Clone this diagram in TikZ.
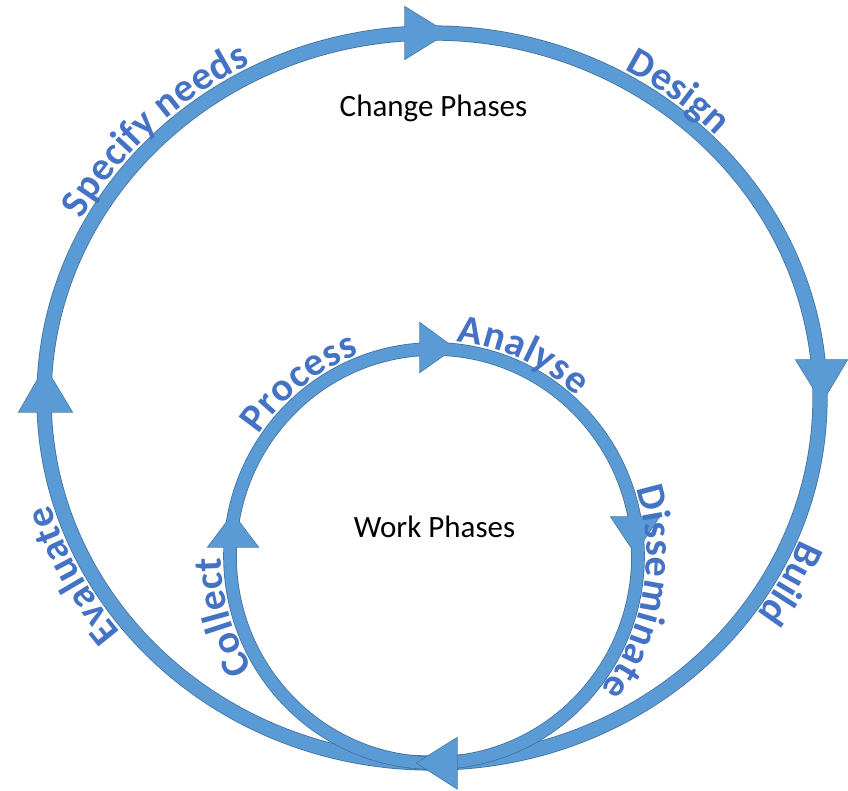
\documentclass[tikz,border=0pt]{standalone}
\usepackage{fontspec}
\setmainfont{Carlito}
\usetikzlibrary{decorations.text}
\definecolor{band}{HTML}{5B9BD5}
\definecolor{bandedge}{HTML}{41719C}
\definecolor{lbl}{HTML}{4472C4}
\newcommand\lblsty{\bfseries\fontsize{40}{48}\selectfont}
\tikzset{
  ringedge/.style={draw=bandedge, line width=15.2pt},
  ringfill/.style={draw=band, line width=13.6pt},
  headedge/.style={fill=bandedge, draw=bandedge, line width=1.4pt},
  headfill/.style={fill=band},
  lbltext/.style={decorate, decoration={text along path, text color=lbl, text align=center, raise=#1, text format delimiters={|}{|}}},
  phase/.style={font=\fontsize{31}{36}\selectfont, inner sep=0pt, anchor=base, text=black}
}
\begin{document}
\begin{tikzpicture}[x=1pt,y=1pt]
\useasboundingbox (0,0) rectangle (848,790);
\coordinate (oc) at (432,392);
\coordinate (ic) at (434,234);
% outer ring
\draw[ringedge] (oc) ellipse[x radius=388, y radius=365];
\path[headedge] (405,783) -- (405,731) -- (447,757) -- cycle;
\path[headedge] (796,430) -- (847,430) -- (822,388) -- cycle;
\path[headedge] (19,378) -- (72,378) -- (45,423) -- cycle;
\draw[ringfill] (oc) ellipse[x radius=388, y radius=365];
\path[headfill] (405,783) -- (405,731) -- (447,757) -- cycle;
\path[headfill] (796,430) -- (847,430) -- (822,388) -- cycle;
\path[headfill] (19,378) -- (72,378) -- (45,423) -- cycle;
% inner ring
\draw[ringedge, line width=13.6pt] (ic) ellipse[x radius=204, y radius=207];
\path[headedge] (420,467) -- (420,418) -- (454,442) -- cycle;
\path[headedge] (208,243) -- (258,243) -- (233,276) -- cycle;
\path[headedge] (611,273) -- (659,273) -- (635,237) -- cycle;
\draw[ringfill, line width=12pt] (ic) ellipse[x radius=204, y radius=207];
\path[headfill] (420,467) -- (420,418) -- (454,442) -- cycle;
\path[headfill] (208,243) -- (258,243) -- (233,276) -- cycle;
\path[headfill] (611,273) -- (659,273) -- (635,237) -- cycle;
% shared bottom head
\path[headedge] (457,52) -- (457,1.5) -- (417,27) -- cycle;
\path[headfill] (457,52) -- (457,1.5) -- (417,27) -- cycle;
% outer labels
\path[lbltext=10pt, decoration={text={|\lblsty|Specify needs}}]
  (oc) ++(175:388 and 365) arc[start angle=175, end angle=95, x radius=388, y radius=365];
\path[lbltext=10pt, decoration={text={|\lblsty|Design}}]
  (oc) ++(92:388 and 365) arc[start angle=92, end angle=12, x radius=388, y radius=365];
\path[lbltext=10pt, decoration={text={|\lblsty|Build}}]
  (oc) ++(12:388 and 365) arc[start angle=12, end angle=-68, x radius=388, y radius=365];
\path[lbltext=10pt, decoration={text={|\lblsty|Evaluate}}]
  (oc) ++(247:388 and 365) arc[start angle=247, end angle=167, x radius=388, y radius=365];
% inner labels
\path[lbltext=8.5pt, decoration={text={|\lblsty|Process}}]
  (ic) ++(168:204 and 207) arc[start angle=168, end angle=88, x radius=204, y radius=207];
\path[lbltext=8.5pt, decoration={text={|\lblsty|Analyse}}]
  (ic) ++(106:204 and 207) arc[start angle=106, end angle=26, x radius=204, y radius=207];
\path[lbltext=8.5pt, decoration={text={|\lblsty|Disseminate}}]
  (ic) ++(40:204 and 207) arc[start angle=40, end angle=-60, x radius=204, y radius=207];
\path[lbltext=8.5pt, decoration={text={|\lblsty|Collect}}]
  (ic) ++(236:204 and 207) arc[start angle=236, end angle=156, x radius=204, y radius=207];
% phase titles
\node[phase] (change) at (433.5,673) {Change Phases};
\node[phase] (work) at (434.5,252) {Work Phases};
\end{tikzpicture}
\end{document}
